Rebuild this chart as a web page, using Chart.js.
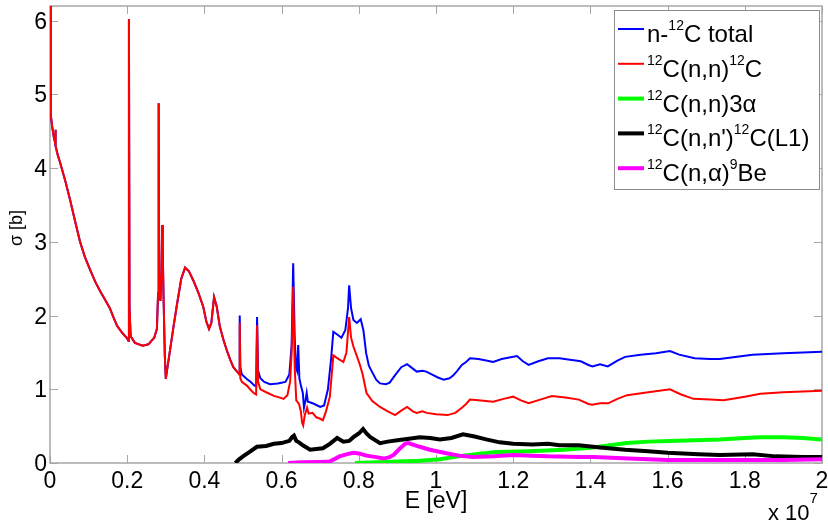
<!DOCTYPE html>
<html>
<head>
<meta charset="utf-8">
<script src="https://cdn.jsdelivr.net/npm/chart.js@4.4.1/dist/chart.umd.min.js"></script>
<style>
  body { margin: 0; background: #fff; }
  #wrap { width: 828px; height: 521px; }
</style>
</head>
<body>
<div id="wrap"><canvas id="xs" width="828" height="521"></canvas></div>
<script>
// Energies in units of 1e7 eV, cross sections in barns

// shared part below 0.49e7 eV where total == elastic
const lowE = [0, 0.002, 0.006, 0.010, 0.013, 0.014, 0.015, 0.020, 0.026, 0.040, 0.052, 0.065, 0.078,
  0.090, 0.104, 0.118, 0.130, 0.142, 0.155, 0.165, 0.174, 0.188, 0.200, 0.203, 0.2045, 0.206, 0.209,
  0.220, 0.240, 0.255, 0.270, 0.277, 0.280, 0.2815, 0.283, 0.286, 0.289, 0.2905, 0.292, 0.294, 0.2975,
  0.300, 0.303, 0.311, 0.320, 0.328, 0.340, 0.350, 0.360, 0.371, 0.385, 0.397, 0.405, 0.412, 0.418,
  0.425, 0.432, 0.440, 0.450, 0.458, 0.467, 0.475, 0.483, 0.488];
const lowSigma = [6.3, 4.72, 4.55, 4.42, 4.35, 4.52, 4.3, 4.18, 4.08, 3.82, 3.57, 3.28, 3.0,
  2.8, 2.62, 2.45, 2.33, 2.22, 2.1, 1.97, 1.86, 1.76, 1.69, 1.66, 6.02, 2.1, 1.72,
  1.63, 1.59, 1.61, 1.70, 1.82, 2.3, 4.88, 2.4, 2.2, 2.6, 3.23, 2.9, 2.3, 1.45,
  1.14, 1.25, 1.53, 1.85, 2.12, 2.5, 2.65, 2.6, 2.48, 2.3, 2.12, 1.92, 1.82, 1.9,
  2.25, 2.12, 1.85, 1.66, 1.53, 1.4, 1.30, 1.25, 1.22];

const totalE = [0.490, 0.4915, 0.493, 0.497, 0.510, 0.520, 0.530, 0.534, 0.5365, 0.539, 0.545, 0.555,
  0.570, 0.590, 0.610, 0.620, 0.626, 0.630, 0.634, 0.637, 0.640, 0.643, 0.646, 0.650, 0.655, 0.658,
  0.662, 0.665, 0.668, 0.675, 0.685, 0.700, 0.710, 0.720, 0.728, 0.734, 0.745, 0.755, 0.765, 0.772,
  0.775, 0.780, 0.786, 0.795, 0.805, 0.812, 0.819, 0.826, 0.834, 0.845, 0.855, 0.870, 0.880, 0.895,
  0.910, 0.925, 0.940, 0.950, 0.965, 0.975, 0.990, 1.005, 1.020, 1.035, 1.045, 1.055, 1.067, 1.078,
  1.088, 1.110, 1.130, 1.148, 1.170, 1.190, 1.210, 1.225, 1.240, 1.265, 1.290, 1.320, 1.347, 1.375,
  1.395, 1.405, 1.425, 1.445, 1.470, 1.490, 1.530, 1.570, 1.606, 1.630, 1.670, 1.710, 1.735, 1.780,
  1.820, 1.860, 1.900, 1.950, 2.000];
const totalSigma = [1.22, 2.0, 1.3, 1.2, 1.14, 1.1, 1.05, 1.04, 1.98, 1.25, 1.15, 1.1,
  1.07, 1.08, 1.1, 1.2, 1.6, 2.71, 1.7, 1.3, 1.25, 1.6, 1.15, 1.05, 0.95, 0.75,
  0.85, 0.95, 0.83, 0.82, 0.8, 0.76, 0.78, 1.0, 1.4, 1.78, 1.74, 1.7, 1.8, 2.1,
  2.41, 2.1, 1.94, 1.9, 1.95, 1.8, 1.49, 1.32, 1.24, 1.13, 1.08, 1.07, 1.09, 1.2,
  1.3, 1.34, 1.28, 1.24, 1.25, 1.24, 1.2, 1.16, 1.13, 1.15, 1.19, 1.25, 1.33, 1.37,
  1.42, 1.41, 1.39, 1.37, 1.41, 1.43, 1.45, 1.38, 1.33, 1.38, 1.42, 1.42, 1.40, 1.38,
  1.33, 1.31, 1.34, 1.31, 1.39, 1.44, 1.47, 1.49, 1.52, 1.47, 1.42, 1.41, 1.41, 1.44,
  1.47, 1.48, 1.49, 1.50, 1.51];

const elasticE = [0.490, 0.4915, 0.493, 0.497, 0.510, 0.520, 0.530, 0.534, 0.5365, 0.539, 0.545, 0.560,
  0.580, 0.600, 0.605, 0.615, 0.622, 0.626, 0.630, 0.634, 0.638, 0.645, 0.650, 0.653, 0.656, 0.660,
  0.666, 0.670, 0.680, 0.690, 0.700, 0.707, 0.715, 0.725, 0.734, 0.745, 0.760, 0.768, 0.775, 0.780,
  0.786, 0.795, 0.803, 0.810, 0.820, 0.835, 0.855, 0.875, 0.894, 0.910, 0.925, 0.940, 0.950, 0.965,
  0.976, 1.000, 1.030, 1.050, 1.067, 1.078, 1.088, 1.110, 1.148, 1.175, 1.200, 1.220, 1.240, 1.270,
  1.300, 1.335, 1.370, 1.395, 1.405, 1.425, 1.446, 1.470, 1.495, 1.550, 1.606, 1.635, 1.667, 1.710,
  1.745, 1.800, 1.840, 1.900, 1.950, 2.000];
const elasticSigma = [1.2, 1.9, 1.15, 1.1, 1.05, 0.99, 0.94, 0.93, 1.87, 1.1, 1.0, 0.96,
  0.91, 0.88, 0.87, 0.92, 1.1, 1.5, 2.39, 1.3, 0.85, 0.8, 0.7, 0.55, 0.51, 0.65,
  0.75, 0.67, 0.68, 0.62, 0.6, 0.58, 0.7, 0.9, 1.46, 1.42, 1.37, 1.5, 1.98, 1.7,
  1.58, 1.45, 1.33, 1.2, 0.95, 0.84, 0.76, 0.7, 0.65, 0.71, 0.76, 0.7, 0.68, 0.7,
  0.68, 0.66, 0.65, 0.68, 0.75, 0.8, 0.86, 0.85, 0.83, 0.87, 0.9, 0.85, 0.81, 0.86,
  0.91, 0.89, 0.86, 0.8, 0.79, 0.81, 0.81, 0.87, 0.92, 0.96, 1.0, 0.93, 0.87, 0.86,
  0.85, 0.9, 0.94, 0.96, 0.97, 0.98];

const alpha3E = [0.79, 0.85, 0.90, 0.958, 1.01, 1.07, 1.12, 1.157, 1.24, 1.33, 1.408, 1.45, 1.494,
  1.55, 1.606, 1.67, 1.735, 1.80, 1.84, 1.90, 1.95, 2.00];
const alpha3Sigma = [0.0, 0.01, 0.02, 0.03, 0.05, 0.1, 0.13, 0.15, 0.16, 0.18, 0.21, 0.24, 0.27,
  0.29, 0.30, 0.31, 0.32, 0.34, 0.35, 0.35, 0.34, 0.32];

const inelE = [0.48, 0.49, 0.50, 0.52, 0.536, 0.56, 0.58, 0.60, 0.62, 0.627, 0.632, 0.638, 0.645,
  0.655, 0.674, 0.69, 0.707, 0.725, 0.744, 0.76, 0.775, 0.786, 0.80, 0.811, 0.82, 0.83, 0.855, 0.875,
  0.90, 0.93, 0.958, 0.985, 1.01, 1.04, 1.07, 1.10, 1.13, 1.165, 1.20, 1.25, 1.29, 1.32, 1.37, 1.425,
  1.49, 1.55, 1.60, 1.68, 1.735, 1.82, 1.88, 1.95, 2.00];
const inelSigma = [0.0, 0.05, 0.09, 0.16, 0.22, 0.23, 0.26, 0.27, 0.3, 0.35, 0.37, 0.3, 0.28,
  0.24, 0.18, 0.19, 0.2, 0.26, 0.34, 0.29, 0.3, 0.35, 0.4, 0.46, 0.4, 0.35, 0.27, 0.29,
  0.31, 0.33, 0.35, 0.34, 0.32, 0.34, 0.39, 0.36, 0.32, 0.28, 0.26, 0.25, 0.26, 0.24, 0.24, 0.21,
  0.18, 0.16, 0.14, 0.12, 0.11, 0.12, 0.09, 0.08, 0.08];

const alphaE = [0.617, 0.65, 0.70, 0.725, 0.75, 0.77, 0.786, 0.80, 0.82, 0.845, 0.864, 0.88, 0.89,
  0.905, 0.92, 0.928, 0.94, 0.958, 0.984, 1.03, 1.06, 1.095, 1.15, 1.20, 1.25, 1.29, 1.37, 1.41,
  1.50, 1.60, 1.70, 1.80, 1.90, 2.00];
const alphaSigma = [0.0, 0.01, 0.015, 0.02, 0.09, 0.12, 0.14, 0.13, 0.1, 0.08, 0.06, 0.08, 0.11,
  0.19, 0.26, 0.27, 0.25, 0.22, 0.18, 0.13, 0.1, 0.08, 0.09, 0.11, 0.1, 0.09, 0.08, 0.08,
  0.06, 0.04, 0.04, 0.04, 0.04, 0.05];

const xTicks = [0, 0.2, 0.4, 0.6, 0.8, 1, 1.2, 1.4, 1.6, 1.8, 2];
const yTicks = [0, 1, 2, 3, 4, 5, 6];

const FONT = '"Liberation Sans", Arial, sans-serif';
const AXIS_GRAY = "#a6a6a6";

function toPoints(es, ss) {
  return es.map((e, i) => ({ x: e, y: ss[i] }));
}

// legend rows: [color, width, pieces]; a piece with sup=true is a superscript
const legendRows = [
  ["#0000ff", 2, [["n-"], ["12", true], ["C total"]]],
  ["#ff0000", 2, [["12", true], ["C(n,n)"], ["12", true], ["C"]]],
  ["#00ff00", 4, [["12", true], ["C(n,n)3α"]]],
  ["#000000", 4, [["12", true], ["C(n,n')"], ["12", true], ["C(L1)"]]],
  ["#ff00ff", 4, [["12", true], ["C(n,α)"], ["9", true], ["Be"]]],
];

function richText(ctx, pieces, x, y, size, supSize, supRise) {
  for (const [txt, sup] of pieces) {
    ctx.font = (sup ? supSize : size) + "px " + FONT;
    ctx.fillText(txt, x, sup ? y - supRise : y);
    x += ctx.measureText(txt).width;
  }
}

// MATLAB-ish box: frame + inward ticks under the data, labels/legend on top
const framePlugin = {
  id: "frame",
  beforeDatasetsDraw(chart) {
    const { ctx, chartArea: a, scales } = chart;
    ctx.save();
    ctx.strokeStyle = AXIS_GRAY;
    ctx.lineWidth = 1.5;
    ctx.strokeRect(a.left, a.top, a.right - a.left, a.bottom - a.top);
    ctx.lineWidth = 1;
    ctx.beginPath();
    xTicks.forEach((v) => {
      const px = Math.round(scales.x.getPixelForValue(v)) + 0.5;
      ctx.moveTo(px, a.bottom); ctx.lineTo(px, a.bottom - 8);
      ctx.moveTo(px, a.top); ctx.lineTo(px, a.top + 8);
    });
    yTicks.forEach((v) => {
      const py = Math.round(scales.y.getPixelForValue(v)) + 0.5;
      ctx.moveTo(a.left, py); ctx.lineTo(a.left + 8, py);
      ctx.moveTo(a.right, py); ctx.lineTo(a.right - 8, py);
    });
    ctx.stroke();
    ctx.restore();
  },
  afterDraw(chart) {
    const { ctx, chartArea: a, scales } = chart;
    ctx.save();
    ctx.fillStyle = "#000";
    ctx.textBaseline = "alphabetic";

    // tick labels
    ctx.font = "23px " + FONT;
    ctx.textAlign = "center";
    xTicks.forEach((v) => {
      ctx.fillText(String(v), scales.x.getPixelForValue(v), a.bottom + 25);
    });
    ctx.textAlign = "right";
    yTicks.forEach((v) => {
      ctx.fillText(String(v), a.left - 3, scales.y.getPixelForValue(v) + 8);
    });

    // axis titles
    ctx.font = "23px " + FONT;
    ctx.textAlign = "center";
    ctx.fillText("E [eV]", 436, 508);
    ctx.save();
    ctx.font = "18px " + FONT;
    ctx.translate(22, 228);
    ctx.rotate(-Math.PI / 2);
    ctx.fillText("σ [b]", 0, 0);
    ctx.restore();

    // x 10^7 multiplier
    ctx.textAlign = "left";
    richText(ctx, [["x 10"], ["7", true]], 768, 520, 22, 15, 17);

    // legend
    const bx = 614, by = 10, bw = 205, bh = 179;
    ctx.fillStyle = "#fff";
    ctx.fillRect(bx, by, bw, bh);
    ctx.strokeStyle = "#8c8c8c";
    ctx.lineWidth = 1;
    ctx.strokeRect(bx + 0.5, by + 0.5, bw, bh);
    legendRows.forEach(([color, w, pieces], i) => {
      const y = 29 + i * 34.8;
      ctx.strokeStyle = color;
      ctx.lineWidth = w;
      ctx.beginPath();
      ctx.moveTo(618, y); ctx.lineTo(644, y);
      ctx.stroke();
      ctx.fillStyle = "#000";
      richText(ctx, pieces, 647, y + 13, 24, 14, 12);
    });
    ctx.restore();
  },
};

const lineStyle = (color, width, order) => ({
  borderColor: color,
  backgroundColor: color,
  borderWidth: width,
  pointRadius: 0,
  tension: 0,
  fill: false,
  order: order,
});

new Chart(document.getElementById("xs"), {
  type: "line",
  data: {
    datasets: [
      { label: "n-12C total", data: toPoints(lowE.concat(totalE), lowSigma.concat(totalSigma)), ...lineStyle("#0000ff", 2, 5) },
      { label: "12C(n,n)12C", data: toPoints(lowE.concat(elasticE), lowSigma.concat(elasticSigma)), ...lineStyle("#ff0000", 2, 4) },
      { label: "12C(n,n)3a", data: toPoints(alpha3E, alpha3Sigma), ...lineStyle("#00ff00", 4, 3) },
      { label: "12C(n,n')12C(L1)", data: toPoints(inelE, inelSigma), ...lineStyle("#000000", 4, 2) },
      { label: "12C(n,a)9Be", data: toPoints(alphaE, alphaSigma), ...lineStyle("#ff00ff", 4, 1) },
    ],
  },
  options: {
    responsive: false,
    animation: false,
    layout: { padding: { top: 6, right: 6, left: 0, bottom: 0 } },
    plugins: { legend: { display: false }, tooltip: { enabled: false } },
    scales: {
      x: {
        type: "linear",
        min: 0,
        max: 2,
        afterFit: (s) => { s.height = 58; s.paddingLeft = 0; s.paddingRight = 0; },
        grid: { display: false, drawTicks: false },
        border: { display: false },
        ticks: { display: false },
      },
      y: {
        type: "linear",
        min: 0,
        max: 6.2,
        afterFit: (s) => { s.width = 50; s.paddingTop = 0; s.paddingBottom = 0; },
        grid: { display: false, drawTicks: false },
        border: { display: false },
        ticks: { display: false },
      },
    },
  },
  plugins: [framePlugin],
});
</script>
</body>
</html>
